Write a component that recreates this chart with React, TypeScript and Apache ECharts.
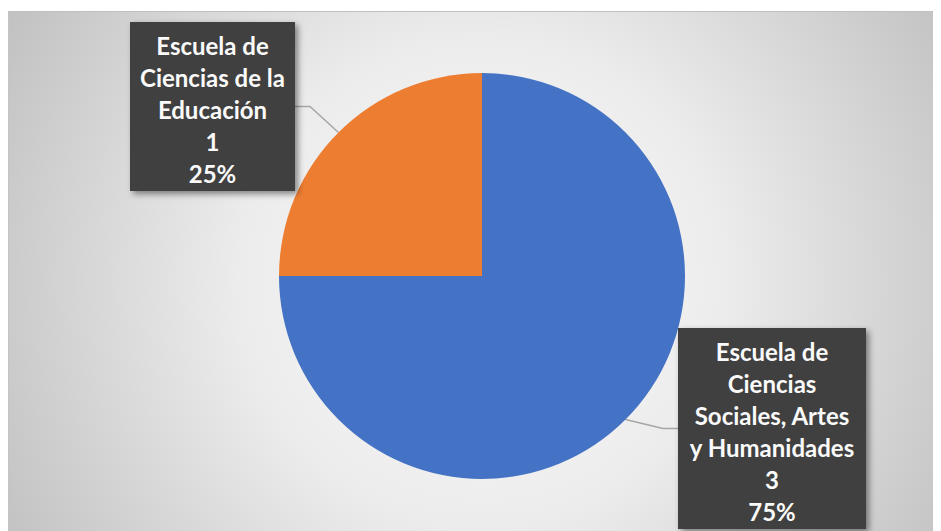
import React, { useEffect, useRef } from "react";
import * as echarts from "echarts";

const labelLines: string[][] = [
  ["Escuela de", "Ciencias", "Sociales, Artes", "y Humanidades"],
  ["Escuela de", "Ciencias de la", "Educación"],
];
const categories: string[] = labelLines.map((l) => l.join(" "));
const values: number[] = [3, 1];
const colors: string[] = ["#4472c4", "#ed7d31"];

export default function App() {
  const ref = useRef<HTMLDivElement>(null);
  useEffect(() => {
    if (!ref.current) return;
    const chart = echarts.init(ref.current, undefined, { renderer: "svg" });
    const total = values.reduce((a, b) => a + b, 0);
    const boxPos = [
      { x: 763, y: 316, w: 168 },
      { x: 203.5, y: 10, w: 145 },
    ];
    chart.setOption({
      animation: false,
      backgroundColor: {
        type: "radial",
        x: 473,
        y: 270,
        r: 540,
        global: true,
        colorStops: [
          { offset: 0, color: "#fbfbfb" },
          { offset: 0.45, color: "#ececec" },
          { offset: 1, color: "#c2c2c2" },
        ],
      },
      series: [
        {
          type: "pie",
          center: [473, 264],
          radius: 203,
          startAngle: 90,
          clockwise: true,
          data: categories.map((name, i) => ({
            name,
            value: values[i],
            itemStyle: { color: colors[i] },
            label: { width: boxPos[i].w },
          })),
          label: {
            show: true,
            formatter: (p: any) => {
              const lines = labelLines[p.dataIndex];
              return [...lines, String(p.value), Math.round((p.value / total) * 100) + "%"].join("\n");
            },
            color: "#fafafa",
            fontFamily: "Lato",
            fontWeight: "bold",
            fontSize: 24,
            lineHeight: 32,
            align: "center",
            overflow: "none",
            backgroundColor: "#404040",
            padding: [7, 10, 2, 10],
            shadowBlur: 6,
            shadowColor: "rgba(0,0,0,0.45)",
            shadowOffsetX: 3,
            shadowOffsetY: 3,
          },
          labelLine: {
            show: true,
            length: 20,
            length2: 15,
            lineStyle: { color: "#a6a6a6", width: 1.5 },
          },
          labelLayout: (params: any) => {
            const b = boxPos[params.dataIndex];
            return { x: b.x, y: b.y, align: "center", verticalAlign: "top" };
          },
        },
      ],
    });
    return () => chart.dispose();
  }, []);
  return (
    <div
      ref={ref}
      style={{
        width: 933,
        height: 520,
        marginTop: 3,
        boxSizing: "border-box",
        borderTop: "1px solid #bfbfbf",
        borderLeft: "1px solid #c4c4c4",
      }}
    />
  );
}
